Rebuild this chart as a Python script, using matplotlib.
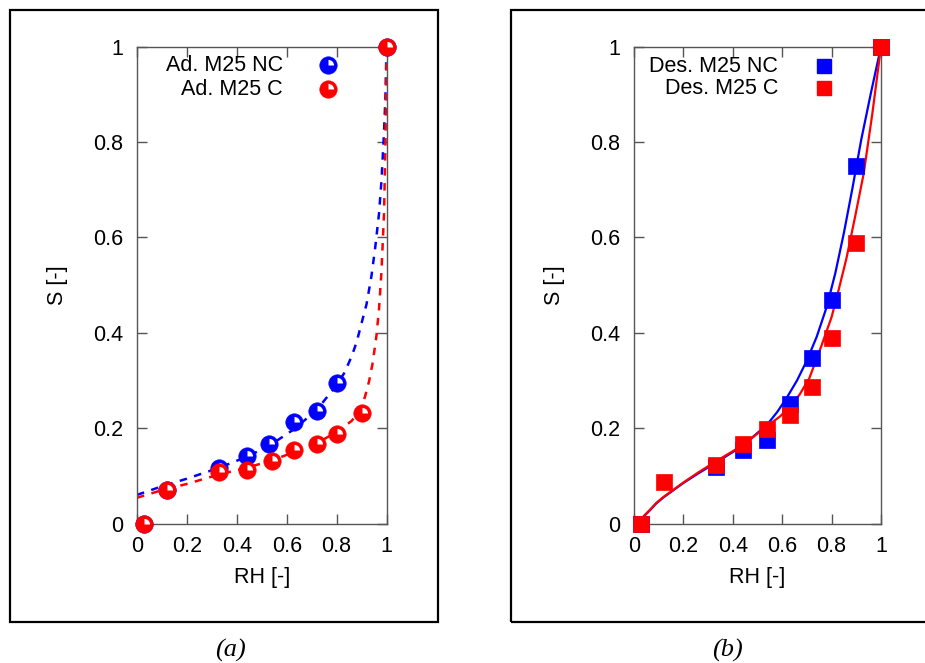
import matplotlib
matplotlib.use('Agg')
import matplotlib.pyplot as plt
from matplotlib.path import Path
from matplotlib.patches import Rectangle

plt.rcParams['font.family'] = ['Liberation Sans', 'DejaVu Sans']

# ---------------- data: panel (a) adsorption ----------------
ads_nc_rh = [0.03, 0.12, 0.33, 0.44, 0.53, 0.63, 0.72, 0.80, 1.0]
ads_nc_s = [0.0, 0.071, 0.117, 0.141, 0.166, 0.213, 0.235, 0.295, 1.0]
ads_c_rh = [0.03, 0.12, 0.33, 0.44, 0.54, 0.63, 0.72, 0.80, 0.90, 1.0]
ads_c_s = [0.0, 0.071, 0.108, 0.113, 0.131, 0.155, 0.166, 0.187, 0.232, 1.0]

fit_ads_nc_rh = [0.0, 0.1, 0.2, 0.33, 0.44, 0.53, 0.63, 0.72, 0.8, 0.83, 0.86, 0.88, 0.9,
                 0.92, 0.94, 0.955, 0.97, 0.98, 0.99, 0.996, 1.0]
fit_ads_nc_s = [0.06, 0.078, 0.094, 0.117, 0.14, 0.163, 0.198, 0.238, 0.29, 0.315, 0.35, 0.38, 0.42,
                0.46, 0.52, 0.58, 0.65, 0.72, 0.82, 0.9, 1.0]
fit_ads_c_rh = [0.0, 0.1, 0.2, 0.33, 0.44, 0.54, 0.63, 0.72, 0.8, 0.86, 0.88, 0.9, 0.915,
                0.93, 0.945, 0.96, 0.97, 0.98, 0.99, 0.996, 1.0]
fit_ads_c_s = [0.054, 0.07, 0.083, 0.103, 0.117, 0.132, 0.15, 0.168, 0.192, 0.215, 0.228, 0.245, 0.268,
               0.298, 0.338, 0.395, 0.45, 0.53, 0.65, 0.8, 1.0]

# ---------------- data: panel (b) desorption ----------------
des_nc_rh = [0.03, 0.33, 0.44, 0.54, 0.63, 0.72, 0.80, 0.90, 1.0]
des_nc_s = [0.0, 0.118, 0.154, 0.176, 0.251, 0.347, 0.468, 0.75, 1.0]
des_c_rh = [0.03, 0.12, 0.33, 0.44, 0.54, 0.63, 0.72, 0.80, 0.90, 1.0]
des_c_s = [0.0, 0.086, 0.123, 0.167, 0.198, 0.228, 0.287, 0.389, 0.588, 1.0]

fit_des_nc_rh = [0.02, 0.04, 0.065, 0.09, 0.12, 0.16, 0.2, 0.26, 0.33, 0.44, 0.54, 0.58, 0.62,
                 0.66, 0.7, 0.74, 0.78, 0.815, 0.85, 0.885, 0.92, 0.96, 1.0]
fit_des_nc_s = [0.0, 0.015, 0.028, 0.042, 0.055, 0.07, 0.085, 0.105, 0.127, 0.163, 0.208, 0.234, 0.265,
                0.3, 0.342, 0.392, 0.454, 0.525, 0.61, 0.705, 0.805, 0.905, 1.0]
fit_des_c_rh = [0.02, 0.04, 0.065, 0.09, 0.12, 0.16, 0.2, 0.26, 0.33, 0.44, 0.54, 0.59, 0.63,
                0.67, 0.71, 0.75, 0.8, 0.83, 0.86, 0.895, 0.93, 0.965, 1.0]
fit_des_c_s = [0.0, 0.016, 0.029, 0.043, 0.056, 0.071, 0.086, 0.107, 0.13, 0.164, 0.205, 0.224, 0.244,
               0.27, 0.305, 0.36, 0.433, 0.493, 0.556, 0.643, 0.734, 0.86, 1.0]

ticks = [0, 0.2, 0.4, 0.6, 0.8, 1]
tick_labels = ['0', '0.2', '0.4', '0.6', '0.8', '1']

BLUE = '#0000ff'
RED = '#ff0000'
FRAME = '#555555'
FS = 15.5

W, H = 925, 663
fig = plt.figure(figsize=(W / 100, H / 100), dpi=100)


def frac(x0, y0, x1, y1):
    return [x0 / W, 1 - y1 / H, (x1 - x0) / W, (y1 - y0) / H]


axA = fig.add_axes(frac(137, 46.7, 386.5, 523.5))
axB = fig.add_axes(frac(634, 46.7, 881, 523.5))

# outer boxes
BOT = 622
fig.add_artist(Rectangle((10 / W, 1 - BOT / H), (438 - 10) / W, (BOT - 10) / H,
                         transform=fig.transFigure, fill=False, lw=1.6, ec='black'))
fig.add_artist(Rectangle((511 / W, 1 - BOT / H), (960 - 511) / W, (BOT - 10) / H,
                         transform=fig.transFigure, fill=False, lw=1.6, ec='black'))

wedge = Path.wedge(0, 90)
BALL = 12.5
HL = 8


def ball(ax, x, y, color, z, transform=None):
    kw = {} if transform is None else {'transform': transform}
    ax.plot(x, y, ls='none', marker='o', ms=BALL, mfc=color, mec=color, mew=0.5,
            clip_on=False, zorder=z, **kw)
    ax.plot(x, y, ls='none', marker=wedge, ms=HL, mfc='white', mec='none',
            clip_on=False, zorder=z + 0.1, **kw)


for ax in (axA, axB):
    ax.set_xlim(0, 1)
    ax.set_ylim(0, 1)
    ax.set_xticks(ticks)
    ax.set_xticklabels(tick_labels)
    ax.set_yticks(ticks)
    ax.set_yticklabels(tick_labels)
    for s in ax.spines.values():
        s.set_color(FRAME)
        s.set_linewidth(1.0)
    ax.tick_params(direction='in', top=True, right=True, length=7, width=1.0,
                   color=FRAME, labelsize=FS, labelcolor='black')
    ax.tick_params(axis='x', pad=9)
    ax.tick_params(axis='y', pad=10)
    ax.set_xlabel('RH [-]', fontsize=FS, labelpad=7)
    ax.set_ylabel('S [-]', fontsize=FS, labelpad=18)

# ---- panel (a)
axA.plot(fit_ads_nc_rh, fit_ads_nc_s, color=BLUE, lw=1.8, ls=(0, (3, 3)), zorder=2)
axA.plot(fit_ads_c_rh, fit_ads_c_s, color=RED, lw=1.8, ls=(0, (3, 3)), zorder=2)
ball(axA, ads_nc_rh, ads_nc_s, BLUE, 3)
ball(axA, ads_c_rh, ads_c_s, RED, 4)

axA.text(0.585, 0.9616, 'Ad. M25 NC', ha='right', va='center', fontsize=FS,
         transform=axA.transAxes)
axA.text(0.585, 0.911, 'Ad. M25 C', ha='right', va='center', fontsize=FS,
         transform=axA.transAxes)
ball(axA, [0.7655], [0.9616], BLUE, 5, transform=axA.transAxes)
ball(axA, [0.7655], [0.911], RED, 5, transform=axA.transAxes)

# ---- panel (b)
axB.plot(fit_des_nc_rh, fit_des_nc_s, color=BLUE, lw=1.6, zorder=2)
axB.plot(fit_des_c_rh, fit_des_c_s, color=RED, lw=1.6, zorder=2)
axB.plot(des_nc_rh, des_nc_s, ls='none', marker='s', ms=11, mfc=BLUE, mec=BLUE,
         mew=0.5, clip_on=False, zorder=3)
axB.plot(des_c_rh, des_c_s, ls='none', marker='s', ms=11, mfc=RED, mec=RED,
         mew=0.5, clip_on=False, zorder=4)

axB.text(0.583, 0.9595, 'Des. M25 NC', ha='right', va='center', fontsize=FS,
         transform=axB.transAxes)
axB.text(0.583, 0.913, 'Des. M25 C', ha='right', va='center', fontsize=FS,
         transform=axB.transAxes)
axB.plot([0.769], [0.9595], ls='none', marker='s', ms=10, mfc=BLUE, mec=BLUE,
         transform=axB.transAxes, clip_on=False, zorder=5)
axB.plot([0.769], [0.913], ls='none', marker='s', ms=10, mfc=RED, mec=RED,
         transform=axB.transAxes, clip_on=False, zorder=5)

# panel captions
fig.text(230 / W, 1 - 650 / H, '(a)', ha='center', va='center', fontsize=19,
         style='italic', family=['Liberation Serif', 'DejaVu Serif'])
fig.text(727 / W, 1 - 650 / H, '(b)', ha='center', va='center', fontsize=19,
         style='italic', family=['Liberation Serif', 'DejaVu Serif'])

fig.savefig('out.png', dpi=100)
